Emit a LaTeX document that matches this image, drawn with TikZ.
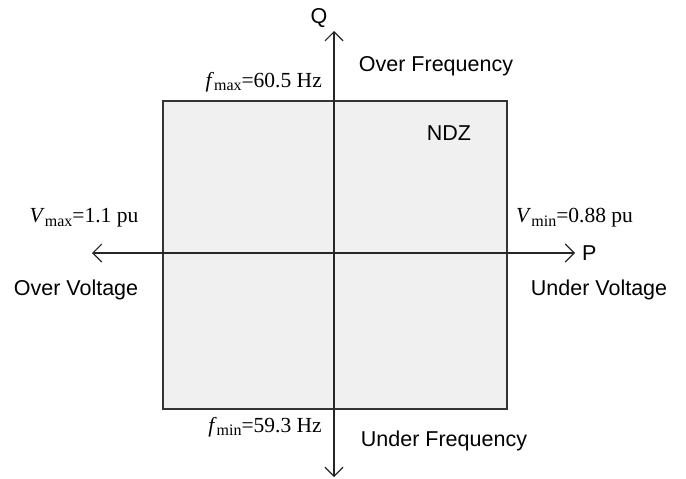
\documentclass[tikz,border=0pt]{standalone}
\usepackage{fontspec}
\setmainfont{Liberation Serif}
\newfontfamily\labelsans{Liberation Sans}
\usetikzlibrary{arrows.meta}
\newcommand{\subtxt}[2]{\textit{#1}\raisebox{-0.35ex}{\fontsize{16}{16}\selectfont #2}}
\begin{document}
\begin{tikzpicture}[x=1pt,y=-1pt,
  region/.style={font=\labelsans\fontsize{21.5}{23}\selectfont, inner sep=0pt},
  limit/.style={font=\fontsize{21.5}{23}\selectfont, inner sep=0pt},
  axis/.style={line width=1.2pt, draw=black!85, -{Straight Barb[length=9pt,width=18pt,line width=1.2pt]}},
  zone/.style={draw=black!80, line width=1.4pt, fill=black!6}]
\useasboundingbox (0,0) rectangle (686,479);
% non-detection zone
\draw[zone] (163,101) rectangle (507,409);
\node[region] (ndz) at (449,133) {NDZ};
% axes
\coordinate (o) at (334,253);
\coordinate (qtop) at (334,31);
\coordinate (qbot) at (334,477);
\coordinate (pleft) at (92,253);
\coordinate (pright) at (575,253);
\draw[axis] (o) -- (qtop);
\draw[axis] (o) -- (qbot);
\draw[axis] (o) -- (pleft);
\draw[axis] (o) -- (pright);
\node[region] (q) at (319,18) {Q};
\node[region, anchor=west] (p) at (582,253) {P};
% region labels
\node[region] (of) at (436,66) {Over Frequency};
\node[region] (uf) at (444,441) {Under Frequency};
\node[region] (ov) at (76,290) {Over Voltage};
\node[region] (uv) at (599,290) {Under Voltage};
% threshold labels
\node[limit, anchor=east] (fmax) at (322,82) {\subtxt{f}{max}=60.5 Hz};
\node[limit, anchor=east] (fmin) at (322,427) {\subtxt{f}{min}=59.3 Hz};
\node[limit] (vmax) at (84,218) {\subtxt{V}{max}=1.1 pu};
\node[limit, anchor=west] (vmin) at (516,218) {\subtxt{V}{min}=0.88 pu};
\end{tikzpicture}
\end{document}
